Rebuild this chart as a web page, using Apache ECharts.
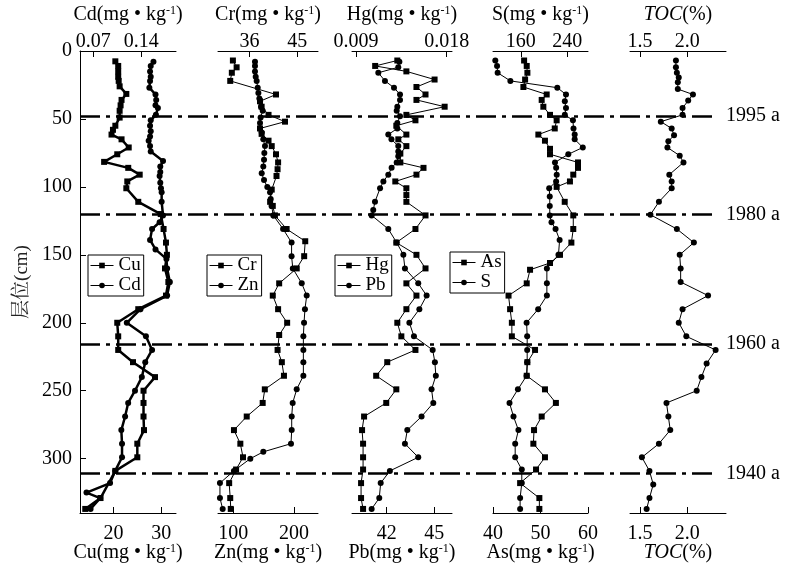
<!DOCTYPE html>
<html><head><meta charset="utf-8">
<script src="https://cdn.jsdelivr.net/npm/echarts@6/dist/echarts.min.js"></script>
<style>html,body{margin:0;padding:0;background:#fff}#c{width:787px;height:568px}</style>
</head><body><div id="c"></div>
<script>
// ---------- data (depth in cm) ----------
const cuDepth = [7.6,11,15,19,22,26,31.6,36,40,44,49,55,58,61.5,65,71,76,81.6,86,91,96,101,111,120,131,141,150,160,170,180,190,200,210,220,229,240,250,259,269,279,289,299,309,329,337];
const cuVal   = [20.4,21.0,21.0,21.0,21.1,21.3,22.7,21.7,21.5,21.3,21.3,20.4,19.9,19.6,21.7,23.2,20.8,18.05,23.1,25.5,22.9,22.7,25.2,29.9,30.5,31.0,31.2,30.8,31.5,31.0,25.2,20.8,21.0,21.0,24.1,28.7,26.3,26.3,26.3,26.4,25.0,25.0,20.4,17.3,14.1];
const cdDepth = [8,11,15,19,22,27,32,36,40,42,47,51,55,59,63,66,70,74,81,85,89,92,97,101,104,111,121,126,131,139,146,153,160,170,180,190,200,210,220,229,240,250,259,269,279,289,299,309,318,325,329,337];
const cdVal   = [0.158,0.154,0.153,0.154,0.153,0.152,0.161,0.162,0.161,0.1645,0.1616,0.154,0.153,0.154,0.153,0.151,0.153,0.154,0.172,0.168,0.168,0.167,0.168,0.169,0.170,0.170,0.172,0.167,0.156,0.153,0.161,0.177,0.178,0.182,0.178,0.139,0.119,0.147,0.156,0.146,0.141,0.131,0.121,0.1165,0.111,0.112,0.112,0.102,0.0945,0.060,0.080,0.066];

const crDepth = [7,12,16,22,32,37,41,47,52,57,61,66,70,76,82,87,92,102,111,114,121,131,140,151,160,171,180,190,200,209,220,229,239,249,259,269,279,289,299,308,318,329,337];
const crVal   = [32.9,33.6,32.7,32.4,41.0,38.0,38.3,39.6,42.7,38.0,38.3,39.6,40.2,41.0,41.4,41.3,41.1,40.2,39.9,40.4,40.8,43.0,46.5,46.3,44.9,41.6,40.4,41.4,43.1,41.6,41.3,42.1,42.5,38.9,38.5,35.5,33.1,34.3,34.8,33.5,32.2,32.4,32.5];
const znDepth = [8,11,15,19,22,27,31,35,37,41,44,49,53,57,60,65,70,75,80,85,90,95,100,104,109,114,121,131,141,151,160,171,180,190,200,210,220,229,239,249,259,269,279,289,295,300,309,318,329,337];
const znVal   = [135.7,135.7,135.7,136.9,138.5,140.2,141.3,142.9,144,145.6,148.4,145,144,144,146.8,149.4,152.2,151.1,150.6,149.4,146.8,150.6,156,160.5,161.6,163,165.9,182,196,196,198,212.7,220.9,218,216.5,215.4,215.4,215.4,215.4,204.4,197.8,196.2,196.2,195,149.4,128,101,78,78,82.5];

const hgDepth = [7,11,15,21,26.5,32,36,41,47,51,55,61.5,65,70,75.5,82,86,91,96,101,106,111,121,131,141,150,160,171,180,190,200,210,220,229,239,249,259,269,279,289,299,308,318,329,337];
const hgVal   = [0.0131,0.0109,0.0140,0.0168,0.0150,0.0159,0.0150,0.0178,0.0140,0.0149,0.0130,0.0140,0.0132,0.0140,0.0134,0.0134,0.0157,0.0150,0.0129,0.0140,0.0140,0.0140,0.0159,0.0149,0.0130,0.0150,0.0159,0.0140,0.0150,0.0140,0.0131,0.0135,0.0149,0.0121,0.0110,0.0130,0.0120,0.0098,0.0096,0.0097,0.0097,0.0097,0.0095,0.0095,0.0097];
const pbDepth = [8,12,16,22,27,32,36,41,44,48,53,57,61.5,65,70,74,77.5,82,86,91,96,101,111,117,121,131,141,150,160,171,180,190,200,210,220,229,239,249,259,269,279,289,299,309,318,329,337];
const pbVal   = [42.8,42.73,41.47,41.89,42.46,42.84,42.84,42.67,42.63,42.84,42.67,42.67,42.1,42.3,42.73,42.73,42.73,42.63,42.31,42.1,41.79,41.58,41.26,41.15,41.05,42.1,42.63,43.05,43.15,43.99,44.52,44.06,43.43,43.72,44.9,45.04,45.1,44.83,44.94,44.2,43.3,43.15,43.99,42.2,41.62,41.53,41.05];

const asDepth = [7,11,16,21,26.5,32,36,41,47,51,57,61.5,66,72,76,82,86,91,96,100,111,121,131,141,150,156,161,171,180,190,200,210,220,229,239,249,259,269,279,289,299,308,318,329,337];
const asVal   = [46.55,47.1,47.24,46.76,46.4,51.3,50.25,50.6,52.0,53.4,53.0,49.55,50.94,52.0,52.0,57.9,57.9,56.9,56.2,53.4,55.1,56.9,56.9,56.5,54.1,52.0,47.8,47.1,43.27,43.6,43.97,43.97,48.85,47.24,47.1,50.94,53.24,50.25,48.64,48.5,50.94,49.06,45.71,49.76,49.76];
const sDepth  = [7,11,16,22,27,32,37,42,47,51,57,61.5,65,71,76,82,86,91,96,101,107,114,121,126,131,139,150,160,171,180,190,200,210,220,229,239,249,259,269,279,289,299,308,318,329,337];
const sVal    = [116,119,120,142,223,238,236,238,236,250,251,253,253,267,242,219,221,222,221,209,210,210,210,213,220,227,225,205,205,205,190,170,171,171,171,170,155,140.5,147.4,155.9,150.3,150.3,161.7,161.7,158.8,158.8];

const tocDepth = [7,12,16,19.5,23,28,32,36.5,42,47,52,57,62,66.5,71,77,82,91,96,101,111,120.5,131,141,150,160,170,180,190,200,210,220,230,240,250,259,269,279,289,299,309,319,329,337];
const tocVal   = [1.88,1.88,1.89,1.91,1.90,1.90,2.06,2.01,1.95,1.95,1.72,1.835,1.86,1.80,1.79,1.92,1.96,1.81,1.835,1.835,1.70,1.61,1.89,2.07,1.92,1.93,1.93,2.22,1.95,1.91,1.99,2.30,2.205,2.15,2.10,1.78,1.80,1.82,1.70,1.52,1.60,1.64,1.60,1.57];

// tick values
const depthTicks = [0,50,100,150,200,250,300];
const cuTicks = [20,30], cdTicks = [0.07,0.14];
const znTicks = [100,200], crTicks = [36,45];
const pbTicks = [42,45], hgTicks = [0.009,0.018];
const asTicks = [40,50,60], sTicks = [160,240];
const tocTicks = [1.5,2.0];

// reference horizons
const horizonNames = ['1995 a','1980 a','1960 a','1940 a'];
const horizonDepth = [48,120.5,215.5,311];

// ---------- chart ----------
const F = '"Liberation Serif","Times New Roman",serif';
const zip = (v,d) => v.map((x,i)=>[x,d[i]]);
const gTop = 51, gH = 462;
const grids = [
  {left:80, width:96},
  {left:218, width:100},
  {left:352, width:100},
  {left:493, width:95},
  {left:630, width:96},
  {left:80, width:632}
].map(g=>Object.assign(g,{top:gTop, height:gH, containLabel:false, outerBoundsMode:'none'}));
const nameStyle = {fontFamily:F, fontSize:20, color:'#000',
  rich:{s:{fontFamily:F, fontSize:12, verticalAlign:'top', color:'#000', lineHeight:12},
        i:{fontFamily:F, fontSize:20, fontStyle:'italic', color:'#000'}}};
function mkX(grid,pos,min,max,ticks,dec,name){
  return {type:'value', gridIndex:grid, position:pos, min:min, max:max,
    axisLine:{show:true, onZero:false, lineStyle:{color:'#000', width:1}},
    axisTick:{show:true, inside:true, length:6, customValues:ticks, lineStyle:{color:'#000'}},
    axisLabel:{show:true, customValues:ticks, formatter:v=>v.toFixed(dec), margin: pos==='top'?-1:11,
      color:'#000', fontFamily:F, fontSize:20},
    splitLine:{show:false},
    name:name, nameLocation:'middle', nameMoveOverlap:false,
    nameGap: pos==='top'?26:30, nameTextStyle:nameStyle};
}
const xAxes = [
  mkX(0,'bottom',13,33.1,cuTicks,0,'Cu(mg • kg{s|-1})'),
  mkX(0,'top',0.0505,0.191,cdTicks,2,'Cd(mg • kg{s|-1})'),
  mkX(1,'bottom',74.8,239.5,znTicks,0,'Zn(mg • kg{s|-1})'),
  mkX(1,'top',30.1,48.9,crTicks,0,'Cr(mg • kg{s|-1})'),
  mkX(2,'bottom',39.81,46.12,pbTicks,0,'Pb(mg • kg{s|-1})'),
  mkX(2,'top',0.0086,0.01853,hgTicks,3,'Hg(mg • kg{s|-1})'),
  mkX(3,'bottom',40,60,asTicks,0,'As(mg • kg{s|-1})'),
  mkX(3,'top',112,276,sTicks,0,'S(mg • kg{s|-1})'),
  mkX(4,'bottom',1.394,2.41,tocTicks,1,'{i|TOC}(%)'),
  mkX(4,'top',1.394,2.41,tocTicks,1,'{i|TOC}(%)'),
  {type:'value', gridIndex:5, min:0, max:1, show:false}
];
const yAxes = [0,1,2,3,4,5].map(g=>{
  if(g===0) return {type:'value', gridIndex:0, min:0, max:340, inverse:true,
    axisLine:{show:true, onZero:false, lineStyle:{color:'#000', width:1}},
    axisTick:{show:true, inside:true, length:6, customValues:depthTicks, lineStyle:{color:'#000'}},
    axisLabel:{customValues:depthTicks, margin:8, color:'#000', fontFamily:F, fontSize:20},
    splitLine:{show:false},
    name:'层位(cm)', nameLocation:'middle', nameGap:48, nameRotate:90, nameMoveOverlap:false,
    nameTextStyle:{fontFamily:'"Liberation Serif","Noto Serif CJK SC","Noto Sans CJK SC",serif', fontSize:19, color:'#222'}};
  return {type:'value', gridIndex:g, min:0, max:340, inverse:true, show:false};
});
function ser(name,xi,yi,data,sym,w){
  return {type:'line', name:name, xAxisIndex:xi, yAxisIndex:yi, data:data,
    symbol:sym, symbolSize:6, showSymbol:true,
    lineStyle:{color:'#000', width:w}, itemStyle:{color:'#000'}, z:3, animation:false};
}
const series = [
  ser('Cu',0,0,zip(cuVal,cuDepth),'rect',2.5),
  ser('Cd',1,0,zip(cdVal,cdDepth),'circle',2.5),
  ser('Zn',2,1,zip(znVal,znDepth),'circle',1),
  ser('Cr',3,1,zip(crVal,crDepth),'rect',1),
  ser('Pb',4,2,zip(pbVal,pbDepth),'circle',1),
  ser('Hg',5,2,zip(hgVal,hgDepth),'rect',1),
  ser('As',6,3,zip(asVal,asDepth),'rect',1),
  ser('S',7,3,zip(sVal,sDepth),'circle',1),
  ser('TOC',8,4,zip(tocVal,tocDepth),'circle',1),
  {type:'line', name:'horizons', xAxisIndex:10, yAxisIndex:5, data:[], z:5,
   markLine:{silent:true, symbol:['none','none'], animation:false,
     lineStyle:{color:'#000', width:2.5, type:[20,6,4,6]},
     label:{show:true, position:'end', distance:14, formatter:'{b}', color:'#000', fontFamily:F, fontSize:20},
     data: horizonNames.map((n,i)=>({name:n, yAxis:horizonDepth[i]}))}}
];
const legCommon = {orient:'vertical', itemWidth:23, itemHeight:7, itemGap:1, padding:[1,3,1,2],
  borderColor:'#000', borderWidth:1, borderRadius:0, backgroundColor:'#fff', selectedMode:false,
  textStyle:{fontFamily:F, fontSize:19, color:'#000', lineHeight:17}, lineStyle:{width:1}, z:6};
const legends = [
  Object.assign({data:['Cu','Cd'], left:88, top:255}, legCommon),
  Object.assign({data:['Cr','Zn'], left:207, top:255}, legCommon),
  Object.assign({data:['Hg','Pb'], left:335, top:255}, legCommon),
  Object.assign({data:['As','S'], left:450, top:252}, legCommon)
];
const chart = echarts.init(document.getElementById('c'), null, {renderer:'canvas'});
chart.setOption({animation:false, backgroundColor:'#fff', textStyle:{fontFamily:F},
  grid:grids, xAxis:xAxes, yAxis:yAxes, series:series, legend:legends});
</script></body></html>
